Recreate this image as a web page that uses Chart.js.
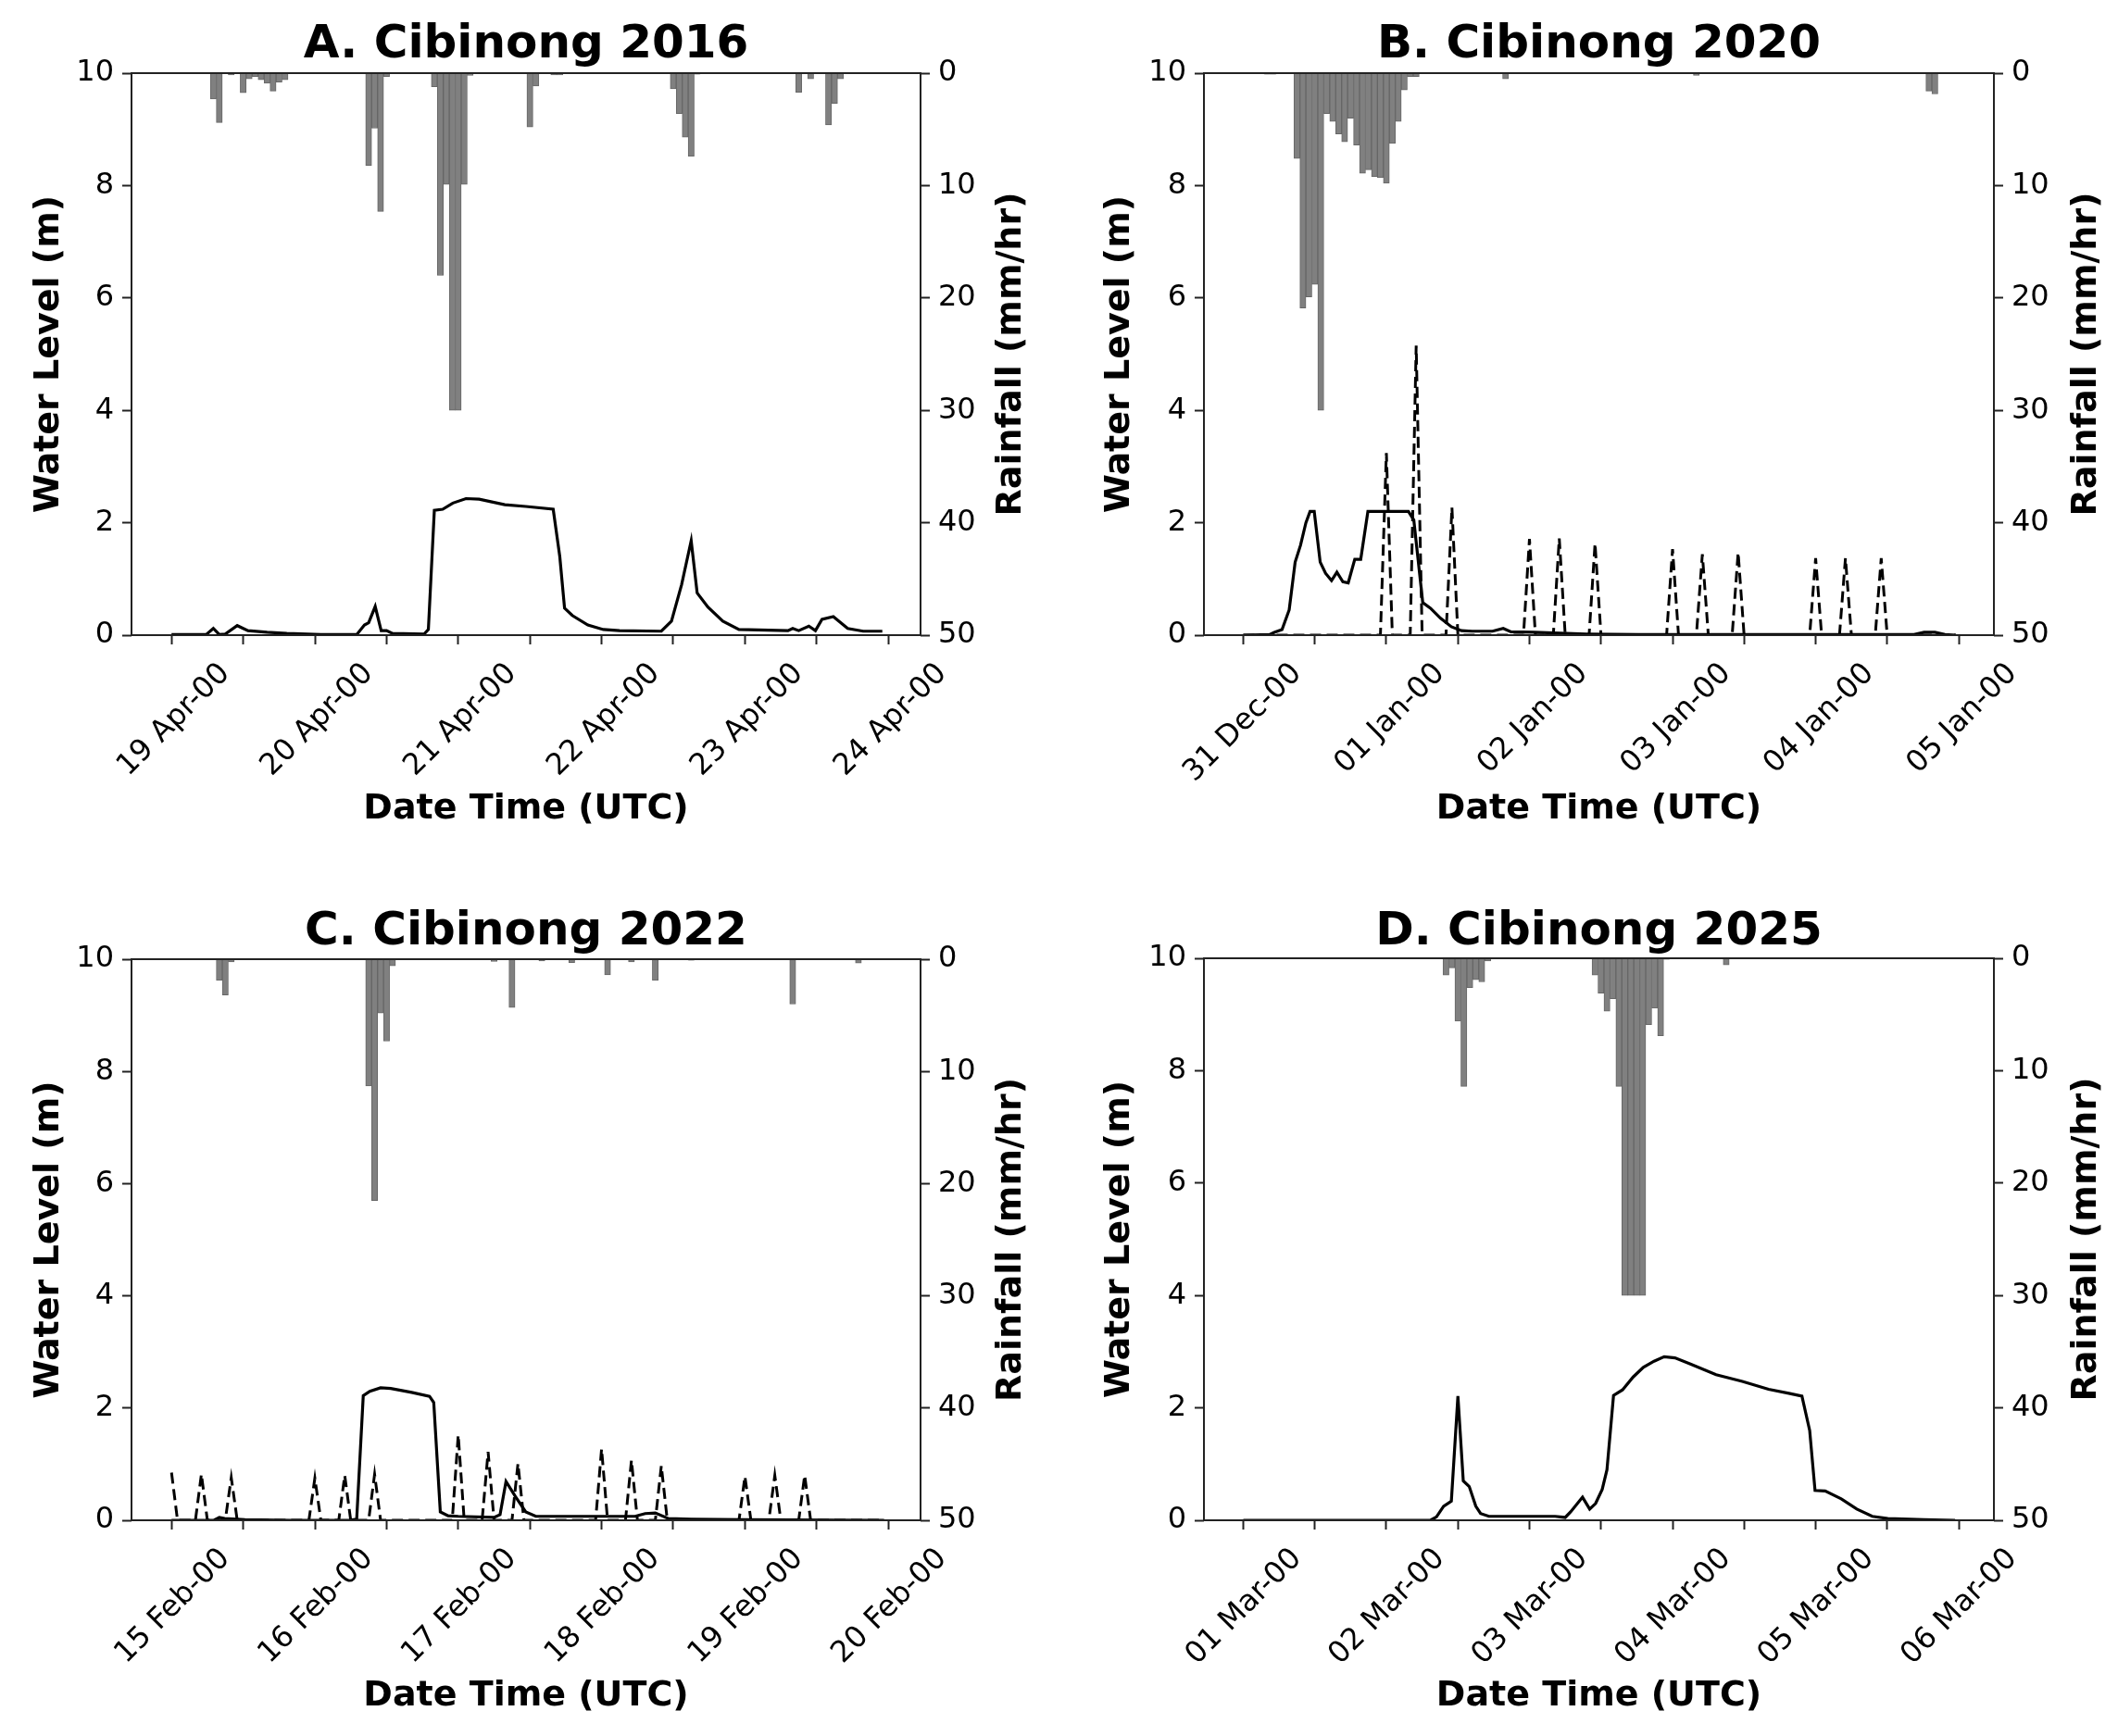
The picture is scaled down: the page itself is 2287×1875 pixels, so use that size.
<!DOCTYPE html>
<html><head><meta charset="utf-8">
<script src="https://cdn.jsdelivr.net/npm/chart.js@4.4.1/dist/chart.umd.min.js"></script>
<style>
html,body{margin:0;padding:0;background:#fff;}
#wrap{position:relative;width:2287px;height:1875px;background:#fff;overflow:hidden;}
canvas{position:absolute;}
</style></head><body><div id="wrap">
<canvas id="cA" width="1143" height="937" style="left:0px;top:0px;width:1143px;height:937px"></canvas>
<canvas id="cB" width="1144" height="937" style="left:1143px;top:0px;width:1144px;height:937px"></canvas>
<canvas id="cC" width="1143" height="938" style="left:0px;top:937px;width:1143px;height:938px"></canvas>
<canvas id="cD" width="1144" height="938" style="left:1143px;top:937px;width:1144px;height:938px"></canvas>
</div>
<script>
// ---------- DATA (hours since first date tick) ----------
const dayTicks = [0, 12, 24, 36, 48, 60, 72, 84, 96, 108, 120];
const ticksA = ['19 Apr-00', '20 Apr-00', '21 Apr-00', '22 Apr-00', '23 Apr-00', '24 Apr-00'];
const ticksB = ['31 Dec-00', '01 Jan-00', '02 Jan-00', '03 Jan-00', '04 Jan-00', '05 Jan-00'];
const ticksC = ['15 Feb-00', '16 Feb-00', '17 Feb-00', '18 Feb-00', '19 Feb-00', '20 Feb-00'];
const ticksD = ['01 Mar-00', '02 Mar-00', '03 Mar-00', '04 Mar-00', '05 Mar-00', '06 Mar-00'];
const leftTicks = [0, 2, 4, 6, 8, 10];
const rightTicks = [0, 10, 20, 30, 40, 50];

// Panel A
const wlA_t = [0, 5.8, 7, 8, 9, 11, 12.8, 16, 19.3, 25, 31, 32.3, 33, 34.1, 35.1, 36, 37, 42.3, 43, 44, 45.4, 47.1, 49.3, 51.5, 55.8, 59.3, 63.9, 65, 65.8, 67.1, 69.7, 72.3, 75, 82, 83.7, 85.4, 87, 88, 89.8, 92.3, 95, 103.2, 104, 105, 106.7, 107.8, 108.9, 110.8, 113.2, 115.8, 119];
const wlA_v = [0.01, 0.01, 0.12, 0.01, 0.02, 0.17, 0.08, 0.05, 0.03, 0.01, 0.01, 0.18, 0.22, 0.51, 0.08, 0.08, 0.03, 0.02, 0.1, 2.22, 2.24, 2.35, 2.43, 2.42, 2.32, 2.29, 2.24, 1.4, 0.48, 0.35, 0.18, 0.1, 0.08, 0.07, 0.25, 0.9, 1.68, 0.75, 0.5, 0.25, 0.1, 0.08, 0.12, 0.08, 0.16, 0.08, 0.28, 0.33, 0.12, 0.07, 0.07];
const rainA_t = [7, 8, 10, 12, 13, 14, 15, 16, 17, 18, 19, 33, 34, 35, 36, 44, 45, 46, 47, 48, 49, 50, 60, 61, 64, 65, 84, 85, 86, 87, 88, 105, 107, 110, 111, 112];
const rainA_v = [2.3, 4.4, 0.15, 1.75, 0.5, 0.3, 0.6, 0.9, 1.6, 0.8, 0.6, 8.2, 4.9, 12.3, 0.3, 1.2, 18.0, 9.9, 30, 30, 9.9, 0.2, 4.8, 1.15, 0.15, 0.15, 1.4, 3.6, 5.7, 7.4, 0.1, 1.7, 0.5, 4.6, 2.7, 0.5];

// Panel B
const wlB_t = [0, 4.4, 5.2, 6.5, 7.7, 8.7, 9.6, 10.5, 11.2, 11.9, 12.9, 13.8, 14.8, 15.7, 16.7, 17.6, 18.7, 19.7, 20.9, 22.7, 27.7, 28.6, 30.1, 31.4, 33.1, 34.9, 36.6, 38.4, 41.8, 43.6, 44.9, 48.8, 57.5, 66.3, 112.5, 114.2, 116, 117.7, 119.5];
const wlB_v = [0.0, 0.01, 0.05, 0.1, 0.45, 1.3, 1.6, 2.0, 2.2, 2.2, 1.3, 1.1, 0.97, 1.12, 0.95, 0.93, 1.35, 1.35, 2.2, 2.2, 2.2, 2.05, 0.58, 0.48, 0.3, 0.15, 0.08, 0.07, 0.07, 0.12, 0.06, 0.05, 0.02, 0.01, 0.01, 0.05, 0.05, 0.01, 0.0];
const dashB_t = [0, 23, 24, 25, 28, 29, 30, 34, 35, 36, 47, 48, 49, 52, 53, 54, 58, 59, 60, 71, 72, 73, 76, 77, 78, 82, 83, 84, 95, 96, 97, 100, 101, 102, 106, 107, 108, 119.5];
const dashB_v = [0, 0, 3.24, 0, 0, 5.15, 0, 0, 2.27, 0, 0, 1.71, 0, 0, 1.72, 0, 0, 1.63, 0, 0, 1.53, 0, 0, 1.44, 0, 0, 1.47, 0, 0, 1.37, 0, 0, 1.37, 0, 0, 1.37, 0, 0];
const rainB_t = [4, 5, 9, 10, 11, 12, 13, 14, 15, 16, 17, 18, 19, 20, 21, 22, 23, 24, 25, 26, 27, 28, 29, 44, 76, 115, 116];
const rainB_v = [0.1, 0.1, 7.6, 20.9, 19.9, 18.8, 30, 3.6, 4.3, 5.4, 6.1, 4.0, 6.4, 8.9, 8.6, 9.2, 9.3, 9.8, 6.25, 4.3, 1.5, 0.3, 0.3, 0.5, 0.2, 1.6, 1.85];

// Panel C
const wlC_t = [0, 5.8, 7.1, 8, 8.9, 12.3, 20, 29.7, 31, 32.1, 33.2, 35, 36.7, 40.2, 43.2, 43.9, 45, 46.3, 48, 54, 55, 56, 57.6, 59.3, 61, 70.6, 77.6, 79.3, 81, 83.2, 87, 95.8, 119.3];
const wlC_v = [0.0, 0.0, 0.0, 0.05, 0.03, 0.01, 0.0, 0.0, 0.02, 2.22, 2.3, 2.36, 2.35, 2.28, 2.21, 2.1, 0.15, 0.08, 0.07, 0.05, 0.1, 0.69, 0.42, 0.15, 0.07, 0.07, 0.07, 0.12, 0.13, 0.03, 0.02, 0.01, 0.0];
const dashC_t = [0, 1, 4, 5, 6, 9, 10, 11, 23, 24, 25, 28, 29, 30, 33, 34, 35, 47, 48, 49, 52, 53, 54, 57, 58, 59, 71, 72, 73, 76, 77, 78, 81, 82, 83, 95, 96, 97, 100, 101, 102, 105, 106, 107, 119.3];
const dashC_v = [0.85, 0, 0, 0.82, 0, 0, 0.76, 0, 0, 0.75, 0, 0, 0.8, 0, 0, 0.82, 0, 0, 1.52, 0, 0, 1.22, 0, 0, 1.01, 0, 0, 1.27, 0, 0, 1.07, 0, 0, 0.97, 0, 0, 0.78, 0, 0, 0.8, 0, 0, 0.8, 0, 0];
const rainC_t = [8, 9, 10, 30, 33, 34, 35, 36, 37, 54, 57, 62, 67, 73, 77, 81, 87, 104, 115];
const rainC_v = [1.9, 3.2, 0.25, 0.05, 11.3, 21.5, 4.8, 7.3, 0.6, 0.2, 4.3, 0.15, 0.3, 1.4, 0.25, 1.9, 0.1, 4.0, 0.35];

// Panel D
const wlD_t = [0, 31.4, 32.4, 33.6, 34.9, 36, 36.9, 37.9, 39, 39.8, 41.2, 52.3, 54, 54.9, 56.9, 58.1, 59.1, 60.2, 61, 62.1, 63.6, 65.4, 67.1, 68.9, 70.6, 72.4, 75, 79.3, 83.7, 88.1, 91.5, 93.7, 95, 95.9, 97.6, 100.3, 102.9, 105.5, 108.1, 114.2, 119.4];
const wlD_v = [0.0, 0.0, 0.06, 0.25, 0.34, 2.21, 0.7, 0.6, 0.25, 0.12, 0.07, 0.07, 0.05, 0.15, 0.41, 0.2, 0.3, 0.55, 0.9, 2.22, 2.32, 2.55, 2.72, 2.83, 2.91, 2.89, 2.78, 2.59, 2.47, 2.33, 2.26, 2.21, 1.6, 0.53, 0.52, 0.38, 0.2, 0.07, 0.03, 0.01, 0.0];
const rainD_t = [34, 35, 36, 37, 38, 39, 40, 41, 59, 60, 61, 62, 63, 64, 65, 66, 67, 68, 69, 70, 71, 81];
const rainD_v = [1.5, 0.85, 5.6, 11.4, 2.6, 1.9, 2.1, 0.25, 1.5, 3.1, 4.7, 3.6, 11.4, 30, 30, 30, 30, 5.9, 4.45, 6.9, 0.1, 0.6];

const titles = ['A. Cibinong 2016', 'B. Cibinong 2020', 'C. Cibinong 2022', 'D. Cibinong 2025'];
const leftLabel = 'Water Level (m)';
const rightLabel = 'Rainfall (mm/hr)';
const xLabel = 'Date Time (UTC)';

// ---------- RENDERING ----------
const FAM = '"DejaVu Sans", "Liberation Sans", sans-serif';
const TICK_FONT = {family: FAM, size: 32};
const LABEL_FONT = {family: FAM, size: 38, weight: 'bold'};

const pts = (t, v) => t.map((x, i) => ({x: x, y: v[i]}));

const rightTitle = {
  id: 'rightTitle',
  afterDraw(chart, args, opts) {
    const {ctx, chartArea} = chart;
    ctx.save();
    ctx.font = 'bold 38px ' + FAM;
    ctx.fillStyle = '#000';
    ctx.textAlign = 'center';
    ctx.textBaseline = 'middle';
    ctx.translate(chartArea.right + opts.offset, (chartArea.top + chartArea.bottom) / 2);
    ctx.rotate(-Math.PI / 2);
    ctx.fillText(opts.text, 0, 0);
    ctx.restore();
  }
};
const frame = {
  id: 'frame',
  afterDatasetsDraw(chart) {
    const {ctx, chartArea: a} = chart;
    ctx.save();
    ctx.strokeStyle = '#222';
    ctx.lineWidth = 2;
    ctx.strokeRect(a.left, a.top, a.right - a.left, a.bottom - a.top);
    ctx.restore();
  }
};

function makeChart(p) {
  const datasets = [
    {type: 'bar', data: pts(p.rain[0], p.rain[1]), xAxisID: 'x', yAxisID: 'yR',
     backgroundColor: '#808080', borderColor: '#666666', borderWidth: 1,
     barPercentage: 1.0, categoryPercentage: 1.0, order: 0},
    {type: 'line', data: pts(p.wl[0], p.wl[1]), xAxisID: 'x', yAxisID: 'y',
     borderColor: '#000', borderWidth: 3.2, pointRadius: 0, tension: 0, fill: false, order: 1}
  ];
  if (p.dash) {
    datasets.push({type: 'line', data: pts(p.dash[0], p.dash[1]), xAxisID: 'x', yAxisID: 'y',
      borderColor: '#000', borderWidth: 3, borderDash: [12, 6], pointRadius: 0, tension: 0,
      fill: false, order: 2});
  }
  const tickGrid = {display: true, drawOnChartArea: false, drawTicks: true, tickLength: 10,
                    tickWidth: 2, tickColor: '#222', offset: false};
  return new Chart(document.getElementById(p.id), {
    data: {datasets: datasets},
    plugins: [rightTitle, frame],
    options: {
      responsive: false, animation: false, maintainAspectRatio: false,
      layout: {padding: 0},
      plugins: {
        legend: {display: false}, tooltip: {enabled: false},
        title: {display: true, text: p.title, fullSize: false, color: '#000',
                font: {family: FAM, size: 50, weight: 'bold', lineHeight: 1.0},
                padding: p.tPad},
        rightTitle: {text: rightLabel, offset: p.rOff}
      },
      scales: {
        x: {type: 'linear', position: 'bottom', min: p.xMin, max: p.xMax, offset: false,
            afterBuildTicks: (s) => { s.ticks = dayTicks.map(v => ({value: v})); },
            afterFit: (s) => { s.height = p.Xh; },
            ticks: {autoSkip: false, minRotation: 45, maxRotation: 45, color: '#000',
                    font: TICK_FONT, padding: 13, labelOffset: 58,
                    callback: (v) => (v % 24 === 0 ? p.labels[v / 24] : '')},
            grid: tickGrid, border: {display: false},
            title: {display: true, text: xLabel, color: '#000', font: LABEL_FONT,
                    padding: {top: 0, bottom: p.xPad}}},
        y: {type: 'linear', position: 'left', min: 0, max: 10, offset: false,
            afterBuildTicks: (s) => { s.ticks = leftTicks.map(v => ({value: v})); },
            afterFit: (s) => { s.width = p.Lw; },
            ticks: {color: '#000', font: TICK_FONT, padding: 9},
            grid: tickGrid, border: {display: false},
            title: {display: true, text: leftLabel, color: '#000', font: LABEL_FONT,
                    padding: {top: p.lPad, bottom: 0}}},
        yR: {type: 'linear', position: 'right', min: 0, max: 50, reverse: true, offset: false,
             afterBuildTicks: (s) => { s.ticks = rightTicks.map(v => ({value: v})); },
             afterFit: (s) => { s.width = p.Rw; },
             ticks: {color: '#000', font: TICK_FONT, padding: 9},
             grid: tickGrid, border: {display: false}}
      }
    }
  });
}

const panels = [
  {id: 'cA', title: titles[0], labels: ticksA, wl: [wlA_t, wlA_v], dash: null, rain: [rainA_t, rainA_v],
   xMin: -6.7, xMax: 125.4, Lw: 142, Rw: 149, Xh: 251, tPad: {top: 24, bottom: 5}, lPad: 30, xPad: 40, rOff: 98},
  {id: 'cB', title: titles[1], labels: ticksB, wl: [wlB_t, wlB_v], dash: [dashB_t, dashB_v], rain: [rainB_t, rainB_v],
   xMin: -6.6, xMax: 125.9, Lw: 157, Rw: 134, Xh: 251, tPad: {top: 24, bottom: 5}, lPad: 43, xPad: 40, rOff: 100},
  {id: 'cC', title: titles[2], labels: ticksC, wl: [wlC_t, wlC_v], dash: [dashC_t, dashC_v], rain: [rainC_t, rainC_v],
   xMin: -6.7, xMax: 125.4, Lw: 142, Rw: 149, Xh: 233, tPad: {top: 45, bottom: 4}, lPad: 30, xPad: 20, rOff: 98},
  {id: 'cD', title: titles[3], labels: ticksD, wl: [wlD_t, wlD_v], dash: null, rain: [rainD_t, rainD_v],
   xMin: -6.6, xMax: 125.9, Lw: 157, Rw: 134, Xh: 233, tPad: {top: 45, bottom: 3}, lPad: 43, xPad: 20, rOff: 100}
];
panels.forEach(makeChart);
</script>
</body></html>
